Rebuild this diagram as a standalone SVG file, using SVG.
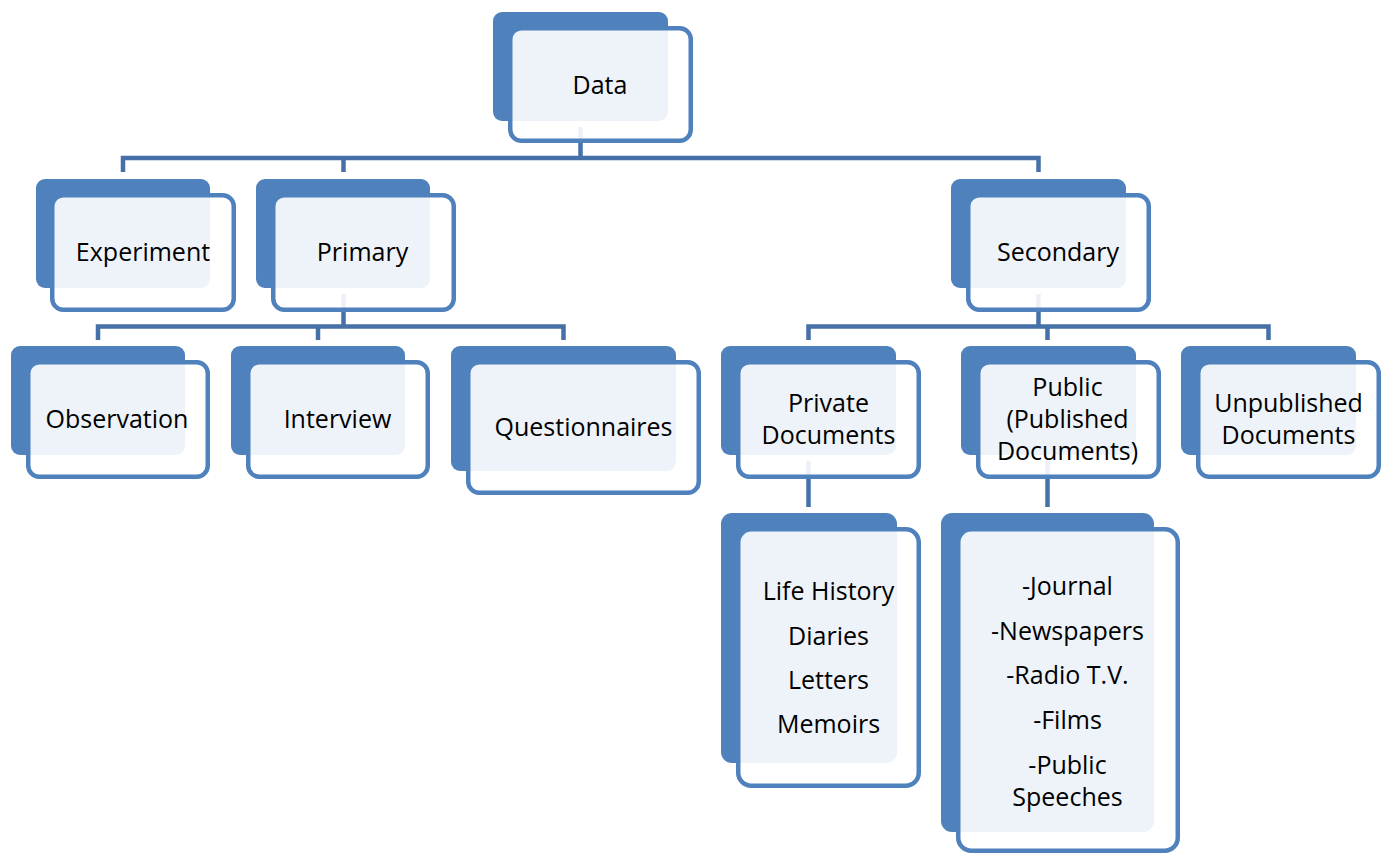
<svg xmlns="http://www.w3.org/2000/svg" width="1388" height="854" viewBox="0 0 1388 854">
  <style>
    .back { fill: #4F81BD; }
    .front { fill: #FFFFFF; fill-opacity: 0.9; stroke: #4F81BD; stroke-width: 4.5; }
    .link { fill: none; stroke: #4570A8; stroke-width: 4.5; stroke-linejoin: miter; }
    .lbl { font-family: "Open Sans", "Liberation Sans", sans-serif; font-size: 25px; fill: #000000; text-anchor: middle; }
  </style>
  <rect width="1388" height="854" fill="#FFFFFF"/>

  <!-- connectors (drawn first so the translucent card fronts tint them) -->
  <g id="connectors">
    <path class="link" d="M580.5,127 V158"/>
    <path class="link" d="M123,172 V158 H1038.5 V172"/>
    <path class="link" d="M343.5,158 V172"/>

    <path class="link" d="M343.5,294 V326.5"/>
    <path class="link" d="M98,340 V326.5 H563.5 V340"/>
    <path class="link" d="M318,326.5 V340"/>

    <path class="link" d="M1038.5,294 V326.5"/>
    <path class="link" d="M808.5,340 V326.5 H1268.5 V340"/>
    <path class="link" d="M1047.5,326.5 V340"/>

    <path class="link" d="M808.5,461 V507"/>
    <path class="link" d="M1047.5,461 V507"/>
  </g>

  <!-- level 0 -->
  <g id="node-data">
    <rect class="back" x="493" y="12" width="175" height="109" rx="9"/>
    <rect class="front" x="510.25" y="28.25" width="180.5" height="112.5" rx="11"/>
    <text class="lbl" x="600" y="93.5">Data</text>
  </g>

  <!-- level 1 -->
  <g id="node-experiment">
    <rect class="back" x="36" y="179" width="174" height="109" rx="9"/>
    <rect class="front" x="52.25" y="195.25" width="181.5" height="114.5" rx="11"/>
    <text class="lbl" x="143" y="261">Experiment</text>
  </g>
  <g id="node-primary">
    <rect class="back" x="256" y="179" width="174" height="109" rx="9"/>
    <rect class="front" x="273.25" y="195.25" width="180.5" height="114.5" rx="11"/>
    <text class="lbl" x="362.5" y="261">Primary</text>
  </g>
  <g id="node-secondary">
    <rect class="back" x="951" y="179" width="175" height="109" rx="9"/>
    <rect class="front" x="968.25" y="195.25" width="180.5" height="114.5" rx="11"/>
    <text class="lbl" x="1058" y="261">Secondary</text>
  </g>

  <!-- level 2 -->
  <g id="node-observation">
    <rect class="back" x="11" y="346" width="174" height="109" rx="9"/>
    <rect class="front" x="28.25" y="362.25" width="179.5" height="114.5" rx="11"/>
    <text class="lbl" x="117" y="428">Observation</text>
  </g>
  <g id="node-interview">
    <rect class="back" x="231" y="346" width="174" height="109" rx="9"/>
    <rect class="front" x="248.25" y="362.25" width="179.5" height="114.5" rx="11"/>
    <text class="lbl" x="337.5" y="428">Interview</text>
  </g>
  <g id="node-questionnaires">
    <rect class="back" x="451" y="346" width="225" height="125" rx="9"/>
    <rect class="front" x="468.25" y="362.25" width="230.5" height="130.5" rx="11"/>
    <text class="lbl" x="583.5" y="436">Questionnaires</text>
  </g>
  <g id="node-private">
    <rect class="back" x="721" y="346" width="175" height="109" rx="9"/>
    <rect class="front" x="738.25" y="362.25" width="180.5" height="114.5" rx="11"/>
    <text class="lbl" x="828.5" y="412">Private</text>
    <text class="lbl" x="828.5" y="444">Documents</text>
  </g>
  <g id="node-public">
    <rect class="back" x="961" y="346" width="175" height="109" rx="9"/>
    <rect class="front" x="978.25" y="362.25" width="180.5" height="114.5" rx="11"/>
    <text class="lbl" x="1067.5" y="395.5">Public</text>
    <text class="lbl" x="1067.5" y="427.5">(Published</text>
    <text class="lbl" x="1067.5" y="459.5">Documents)</text>
  </g>
  <g id="node-unpublished">
    <rect class="back" x="1181" y="346" width="175" height="109" rx="9"/>
    <rect class="front" x="1198.25" y="362.25" width="180.5" height="114.5" rx="11"/>
    <text class="lbl" x="1288.5" y="412">Unpublished</text>
    <text class="lbl" x="1288.5" y="444">Documents</text>
  </g>

  <!-- level 3 -->
  <g id="node-private-list">
    <rect class="back" x="721" y="513" width="176" height="250" rx="11"/>
    <rect class="front" x="738.25" y="529.25" width="180.5" height="256.5" rx="13"/>
    <text class="lbl" x="828.5" y="600">Life History</text>
    <text class="lbl" x="828.5" y="644.5">Diaries</text>
    <text class="lbl" x="828.5" y="688.5">Letters</text>
    <text class="lbl" x="828.5" y="733">Memoirs</text>
  </g>
  <g id="node-public-list">
    <rect class="back" x="941" y="513" width="213" height="319" rx="11"/>
    <rect class="front" x="958.25" y="529.25" width="219.5" height="321.5" rx="13"/>
    <text class="lbl" x="1067.5" y="594.5">-Journal</text>
    <text class="lbl" x="1067.5" y="639.5">-Newspapers</text>
    <text class="lbl" x="1067.5" y="684">-Radio T.V.</text>
    <text class="lbl" x="1067.5" y="728.5">-Films</text>
    <text class="lbl" x="1067.5" y="773.5">-Public</text>
    <text class="lbl" x="1067.5" y="805.5">Speeches</text>
  </g>
</svg>
